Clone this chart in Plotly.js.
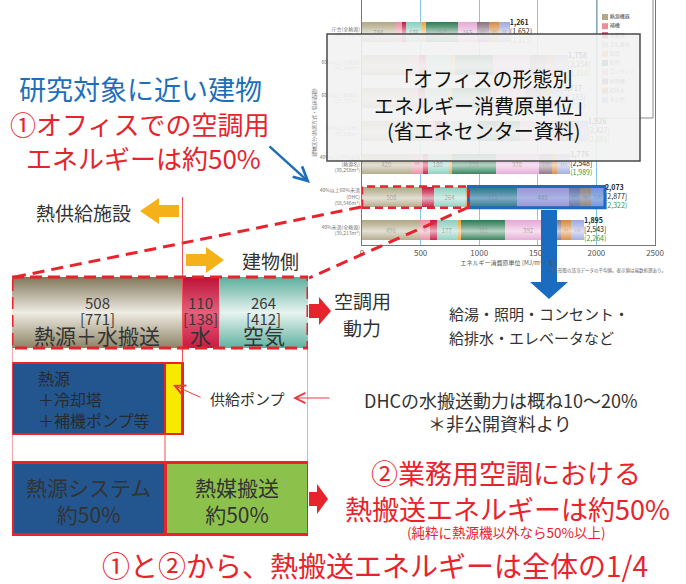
<!DOCTYPE html>
<html>
<head>
<meta charset="utf-8">
<script src="https://cdn.plot.ly/plotly-3.0.1.min.js"></script>
<style>
  html, body { margin: 0; padding: 0; background: #fff; }
  #chart { width: 686px; height: 584px; }
</style>
</head>
<body>
<div id="chart"></div>
<script>
// small reference chart (rows bottom -> top), MJ/m2 per year
const rowLabels = [
  '40%未満(全熱源)<br>(39,213m²)',
  '40%以上60%未満<br>(DHC)<br>(58,546m²)',
  '40%以上60%未満<br>(熱源名)<br>(30,258m²)',
  '60%以上(DHC)<br>(33,136m²)',
  '60%以上(熱源名)<br>(23,787m²)',
  '60%以上(全熱源)<br>(45,148m²)',
  '庁舎(全熱源)<br>(47,136m²)'
];
const seriesNames = ['熱源機器', '補機', '水搬送', '空気搬送', '給湯', '照明', 'コンセント', '昇降機', '給排水', 'その他'];
const heatSource = [496, 508, 420, 560, 410, 420, 284];
const auxiliary  = [85, 0, 100, 60, 70, 70, 56];
const waterPump  = [57, 110, 40, 110, 60, 60, 37];
const airFan     = [177, 264, 180, 230, 190, 200, 132];
const hotWater   = [28, 26, 30, 30, 40, 40, 41];
const lighting   = [381, 415, 370, 360, 330, 330, 268];
const outlets    = [392, 440, 370, 300, 300, 310, 165];
const elevator   = [82, 100, 115, 110, 130, 130, 97];
const plumbing   = [87, 90, 40, 60, 80, 80, 93];
const others     = [110, 120, 111, 106, 107, 118, 88];
const primaryTotals = [2543, 2877, 2548, 2427, 2183, 2234, 1652];
const netTotals     = [2264, 2322, 1989, 2061, 1792, 1818, 1415];

// enlarged DHC air-conditioning part
const acLabels  = ['熱源＋水搬送', '水', '空気'];
const acValues  = [508, 110, 264];
const acPrimary = [771, 138, 412];
const plantLabels = ['熱源<br>＋冷却塔<br>＋補機ポンプ等', '供給ポンプ'];
const plantValues = [456, 52];
const shareLabels = ['熱源システム', '熱媒搬送'];
const shareText   = ['約50%', '約50%'];

const series = [heatSource, auxiliary, waterPump, airFan, hotWater, lighting, outlets, elevator, plumbing, others];
const seriesColors = ['#b1a886', '#e98ea2', '#c61c42', '#8ccfbf', '#f0a232', '#2f7d56',
                      '#e6a9d6', '#8b7283', '#d88b3f', '#9ea9e0'];

const FONT = 'Noto Sans CJK JP, Noto Sans, sans-serif';
const RED = '#e8232c';
const fmt = n => n.toLocaleString('en-US');
const rowIdx = rowLabels.map((_, i) => i);
const totals = rowIdx.map(i => series.reduce((s, a) => s + a[i], 0));
const dhc = 1;
const covered = [3, 4, 5]; // rows hidden behind the caption panel
const acEnd = heatSource[dhc] + auxiliary[dhc] + waterPump[dhc] + airFan[dhc] + hotWater[dhc];
const acTotal = acValues.reduce((a, b) => a + b, 0);

const traces = [];

// small chart bars
series.forEach((vals, k) => {
  traces.push({
    type: 'bar', orientation: 'h', x: vals, y: rowIdx, width: 0.6,
    name: seriesNames[k],
    marker: { color: seriesColors[k], line: { width: 0 } },
    text: vals.map((v, i) => (v >= 80 && !covered.includes(i)) ? String(v) : ''),
    textposition: 'inside', insidetextanchor: 'middle', textangle: 0,
    textfont: { size: 6, color: '#333' },
    hoverinfo: 'skip', xaxis: 'x', yaxis: 'y'
  });
});

// glossy band over each small bar
const gloss = [[0, 'rgba(255,255,255,0.05)'], [0.45, 'rgba(255,255,255,0.65)'],
               [0.75, 'rgba(255,255,255,0.25)'], [1, 'rgba(255,255,255,0)']];
totals.forEach((t, i) => {
  traces.push({
    type: 'scatter', mode: 'lines', x: [0, t, t, 0, 0],
    y: [i - 0.3, i - 0.3, i + 0.3, i + 0.3, i - 0.3],
    fill: 'toself', line: { width: 0 }, fillcolor: 'rgba(255,255,255,0.3)',
    fillgradient: { type: 'vertical', colorscale: gloss },
    hoverinfo: 'skip', xaxis: 'x', yaxis: 'y'
  });
});

// totals at bar ends
traces.push({
  type: 'scatter', mode: 'text', x: totals, y: rowIdx, cliponaxis: false,
  text: totals.map((t, i) => '<b>' + fmt(t) + '</b><br>[' + fmt(primaryTotals[i]) +
    ']<br><span style="color:#2e9a40">(' + fmt(netTotals[i]) + ')</span>'),
  textposition: 'middle right', textfont: { size: 7, color: '#222' },
  hoverinfo: 'skip', xaxis: 'x', yaxis: 'y'
});

// legend of the small chart (drawn as marks so the caption panel can cover it)
traces.push({
  type: 'scatter', mode: 'markers+text', xaxis: 'x3', yaxis: 'y3',
  x: seriesNames.map(() => 605), y: seriesNames.map((_, k) => 17 + k * 9.2),
  marker: { symbol: 'square', size: 6, color: seriesColors },
  text: seriesNames, textposition: 'middle right',
  textfont: { size: 5, color: '#444' }, cliponaxis: false, hoverinfo: 'skip'
});

// enlarged air-conditioning bar with gradients
const acScales = [
  [[0, '#8d8365'], [0.5, '#efece3'], [1, '#80765a']],
  [[0, '#c81a42'], [0.5, '#e4607c'], [1, '#bc1238']],
  [[0, '#5fb2a0'], [0.5, '#e8f4f0'], [1, '#5aae9c']]
];
let cum = 0;
const acCenters = [];
acValues.forEach((v, k) => {
  const a = cum, b = cum + v;
  acCenters.push((a + b) / 2);
  traces.push({
    type: 'scatter', mode: 'lines', x: [a, b, b, a, a], y: [348, 348, 277, 277, 348],
    fill: 'toself', line: { width: 0 }, fillcolor: acScales[k][1][1],
    fillgradient: { type: 'vertical', colorscale: acScales[k] },
    hoverinfo: 'skip', xaxis: 'x2', yaxis: 'y2'
  });
  cum = b;
});

// plant block with supply pump
traces.push({
  type: 'bar', orientation: 'h', xaxis: 'x2', yaxis: 'y2',
  x: plantValues, base: [0, plantValues[0]], y: [398.5, 398.5], width: 71,
  marker: { color: ['#23568f', '#f7e900'], line: { color: RED, width: 2.5 } },
  hoverinfo: 'skip'
});
// heat source system vs heat transport
const shareValues = [plantValues[0], plantValues[1] + acValues[1] + acValues[2]];
traces.push({
  type: 'bar', orientation: 'h', xaxis: 'x2', yaxis: 'y2',
  x: shareValues, base: [0, shareValues[0]], y: [498, 498], width: 72,
  marker: { color: ['#23568f', '#8cc24b'], line: { color: RED, width: 3 } },
  hoverinfo: 'skip'
});

// ---- shapes ----
function rightArrow(x0, x1, yc, sh, hh, hl) {
  return `M${x0},${yc - sh} L${x1 - hl},${yc - sh} L${x1 - hl},${yc - hh} L${x1},${yc} L${x1 - hl},${yc + hh} L${x1 - hl},${yc + sh} L${x0},${yc + sh} Z`;
}
function leftArrow(x0, x1, yc, sh, hh, hl) {
  return `M${x1},${yc - sh} L${x0 + hl},${yc - sh} L${x0 + hl},${yc - hh} L${x0},${yc} L${x0 + hl},${yc + hh} L${x0 + hl},${yc + sh} L${x1},${yc + sh} Z`;
}
function downArrow(xc, y0, y1, sw, hw, hl) {
  return `M${xc - sw},${y0} L${xc + sw},${y0} L${xc + sw},${y1 - hl} L${xc + hw},${y1 - hl} L${xc},${y1} L${xc - hw},${y1 - hl} L${xc - sw},${y1 - hl} Z`;
}
const px = { xref: 'x3', yref: 'y3', layer: 'above' };
const thin = { color: '#f0505a', width: 1 };
const shapes = [
  // legend frame
  { type: 'rect', xref: 'x3', yref: 'y3', layer: 'below', x0: 597, x1: 653, y0: -2, y1: 118,
    fillcolor: '#fff', line: { color: '#8a8a8a', width: 1 } },
  // highlight boxes on the DHC row
  { type: 'rect', xref: 'x', yref: 'y', layer: 'above', x0: acEnd, x1: totals[dhc], y0: dhc - 0.32, y1: dhc + 0.32,
    fillcolor: 'rgba(40,110,210,0.38)', line: { color: '#1b6cc0', width: 3 } },
  { type: 'rect', xref: 'x', yref: 'y', layer: 'above', x0: 0, x1: acEnd, y0: dhc - 0.32, y1: dhc + 0.32,
    line: { color: RED, width: 2.5, dash: '8px,5px' } },
  // zoom connectors
  Object.assign({ type: 'line', x0: 361, y0: 207, x1: 10, y1: 278, line: { color: RED, width: 3, dash: '12px,7px' } }, px),
  Object.assign({ type: 'line', x0: 469, y0: 207, x1: 309, y1: 278, line: { color: RED, width: 3, dash: '12px,7px' } }, px),
  // thin guide lines
  { type: 'line', xref: 'x2', yref: 'y2', layer: 'above', x0: acValues[0], x1: acValues[0], y0: 197, y1: 363, line: thin },
  { type: 'line', xref: 'x2', yref: 'y2', layer: 'above', x0: 0, x1: 0, y0: 348, y1: 462, line: thin },
  { type: 'line', xref: 'x2', yref: 'y2', layer: 'above', x0: acTotal, x1: acTotal, y0: 348, y1: 462, line: thin },
  { type: 'line', xref: 'x2', yref: 'y2', layer: 'above', x0: plantValues[0], x1: plantValues[0], y0: 434, y1: 462, line: thin },
  // enlarged bar frame
  { type: 'rect', xref: 'x2', yref: 'y2', layer: 'above', x0: 0, x1: acTotal, y0: 277, y1: 348,
    line: { color: RED, width: 3, dash: '12px,6px' } },
  // block arrows
  Object.assign({ type: 'path', path: leftArrow(140, 179, 211, 6, 13, 19), fillcolor: '#f5b119', line: { width: 0 } }, px),
  Object.assign({ type: 'path', path: rightArrow(186, 224, 260, 6, 13, 18), fillcolor: '#f5b119', line: { width: 0 } }, px),
  Object.assign({ type: 'path', path: rightArrow(309, 331, 311, 7, 14, 12), fillcolor: RED, line: { width: 0 } }, px),
  Object.assign({ type: 'path', path: rightArrow(309, 328, 499, 7, 15, 11), fillcolor: RED, line: { width: 0 } }, px),
  Object.assign({ type: 'path', path: downArrow(549, 210, 299, 8, 19, 17), fillcolor: '#1a6cc0', line: { width: 0 } }, px),
  // caption panel over the small chart
  Object.assign({ type: 'rect', x0: 327, x1: 640, y0: 34, y1: 161,
    fillcolor: 'rgba(242,242,242,0.9)', line: { color: '#4a4a4a', width: 1.5 } }, px)
];

// ---- annotations ----
function txt(text, x, y, size, color, extra) {
  return Object.assign({ text, x, y, xref: 'x3', yref: 'y3', showarrow: false,
    xanchor: 'center', yanchor: 'middle', font: { size, color, family: FONT } }, extra || {});
}
const annotations = [
  txt('研究対象に近い建物', 140, 88, 27, '#1e6fba'),
  txt('①オフィスでの空調用', 139, 123, 26, RED),
  txt('エネルギーは約50%', 143, 157, 26, RED),
  txt('熱供給施設', 83, 212, 19, '#333'),
  txt('建物側', 270, 260, 19, '#333'),
  txt('空調用', 362, 300, 19, '#333'),
  txt('動力', 362, 327, 19, '#333'),
  txt('給湯・照明・コンセント・', 447, 313, 15, '#333', { xanchor: 'left' }),
  txt('給排水・エレベータなど', 447, 337, 15, '#333', { xanchor: 'left' }),
  txt(plantLabels[1], 247, 398, 15, '#333'),
  txt('DHCの水搬送動力は概ね10〜20%', 501, 400, 18, '#333'),
  txt('＊非公開資料より', 500, 423, 18, '#333'),
  txt('②業務用空調における', 506, 472, 27, RED),
  txt('熱搬送エネルギーは約50%', 507, 508, 27, RED),
  txt('(純粋に熱源機以外なら50%以上)', 506, 532, 13.5, RED),
  txt('①と②から、熱搬送エネルギーは全体の1/4', 375, 565, 28, RED),
  txt('「オフィスの形態別', 483, 78, 20, '#111'),
  txt('エネルギー消費原単位」', 484, 105, 20, '#111'),
  txt('(省エネセンター資料)', 484, 130, 20, '#111'),
  txt('※各形態の該当データの平均値。表示値は端数処理あり。', 668, 270, 4.5, '#666', { xanchor: 'right' }),
  // arrows
  { x: 310, y: 183, ax: 268, ay: 145, xref: 'x3', yref: 'y3', axref: 'x3', ayref: 'y3', text: '',
    showarrow: true, arrowhead: 5, arrowsize: 1.1, arrowwidth: 2.5, arrowcolor: '#1e6fba', standoff: 0 },
  { x: 173, y: 385, ax: 202, ay: 398, xref: 'x3', yref: 'y3', axref: 'x3', ayref: 'y3', text: '',
    showarrow: true, arrowhead: 5, arrowsize: 2, arrowwidth: 1, arrowcolor: '#e83a44', standoff: 0 },
  { x: 293, y: 398, ax: 331, ay: 398, xref: 'x3', yref: 'y3', axref: 'x3', ayref: 'y3', text: '',
    showarrow: true, arrowhead: 5, arrowsize: 2, arrowwidth: 1, arrowcolor: '#e83a44', standoff: 0 }
];

// labels on the enlarged bar
acValues.forEach((v, k) => {
  const base = { xref: 'x2', yref: 'y2', showarrow: false, xanchor: 'center', yanchor: 'middle' };
  annotations.push(Object.assign({ text: String(v), x: acCenters[k], y: 302, font: { size: 15, color: '#3a3a3a', family: FONT } }, base));
  annotations.push(Object.assign({ text: '[' + acPrimary[k] + ']', x: acCenters[k], y: 318, font: { size: 15, color: '#3a3a3a', family: FONT } }, base));
  annotations.push(Object.assign({ text: acLabels[k], x: acCenters[k], y: 335, font: { size: 21, color: '#333', family: FONT } }, base));
});
annotations.push({ text: plantLabels[0], x: 0, xshift: 24, y: 399, xref: 'x2', yref: 'y2', showarrow: false,
  xanchor: 'left', yanchor: 'middle', align: 'left', font: { size: 16, color: '#2a2a2a', family: FONT } });
shareValues.forEach((v, k) => {
  const c = (k === 0 ? 0 : shareValues[0]) + v / 2;
  annotations.push({ text: shareLabels[k] + '<br>' + shareText[k], x: c, y: 500, xref: 'x2', yref: 'y2',
    showarrow: false, xanchor: 'center', yanchor: 'middle', font: { size: 21, color: '#333', family: FONT } });
});

const layout = {
  width: 686, height: 584,
  margin: { l: 0, r: 0, t: 0, b: 0 },
  paper_bgcolor: '#fff', plot_bgcolor: 'rgba(0,0,0,0)',
  font: { family: FONT, color: '#333' },
  showlegend: false, barmode: 'stack', dragmode: false,
  uniformtext: { mode: 'hide', minsize: 5 },
  xaxis: {
    domain: [362 / 686, 655 / 686], range: [0, 2500], anchor: 'y',
    tickvals: [0, 500, 1000, 1500, 2000, 2500], tickfont: { size: 8, color: '#555' },
    showgrid: true, gridcolor: '#86c6e6', gridwidth: 1, zeroline: false,
    showline: true, linecolor: '#777', ticks: '', fixedrange: true,
    title: { text: 'エネルギー消費原単位 [MJ/m²・年]', font: { size: 6, color: '#555' }, standoff: 2 }
  },
  yaxis: {
    domain: [1 - 245 / 584, 1], range: [-0.45, 6.97], anchor: 'x',
    tickvals: rowIdx, ticktext: rowLabels, tickfont: { size: 5, color: '#777' },
    showgrid: false, zeroline: false, showline: true, mirror: true, linecolor: '#777',
    ticks: '', fixedrange: true,
    title: { text: '建物区分(熱源方式・延床面積)', font: { size: 5, color: '#777' }, standoff: 2 }
  },
  xaxis2: { domain: [12 / 686, 308 / 686], range: [0, acTotal], anchor: 'y2', visible: false, fixedrange: true },
  yaxis2: { domain: [0, 1], range: [584, 0], anchor: 'x2', visible: false, fixedrange: true },
  xaxis3: { domain: [0, 1], range: [0, 686], anchor: 'y3', visible: false, fixedrange: true },
  yaxis3: { domain: [0, 1], range: [584, 0], anchor: 'x3', visible: false, fixedrange: true },
  shapes, annotations
};

Plotly.newPlot('chart', traces, layout, { displayModeBar: false, staticPlot: true });
</script>
</body>
</html>
